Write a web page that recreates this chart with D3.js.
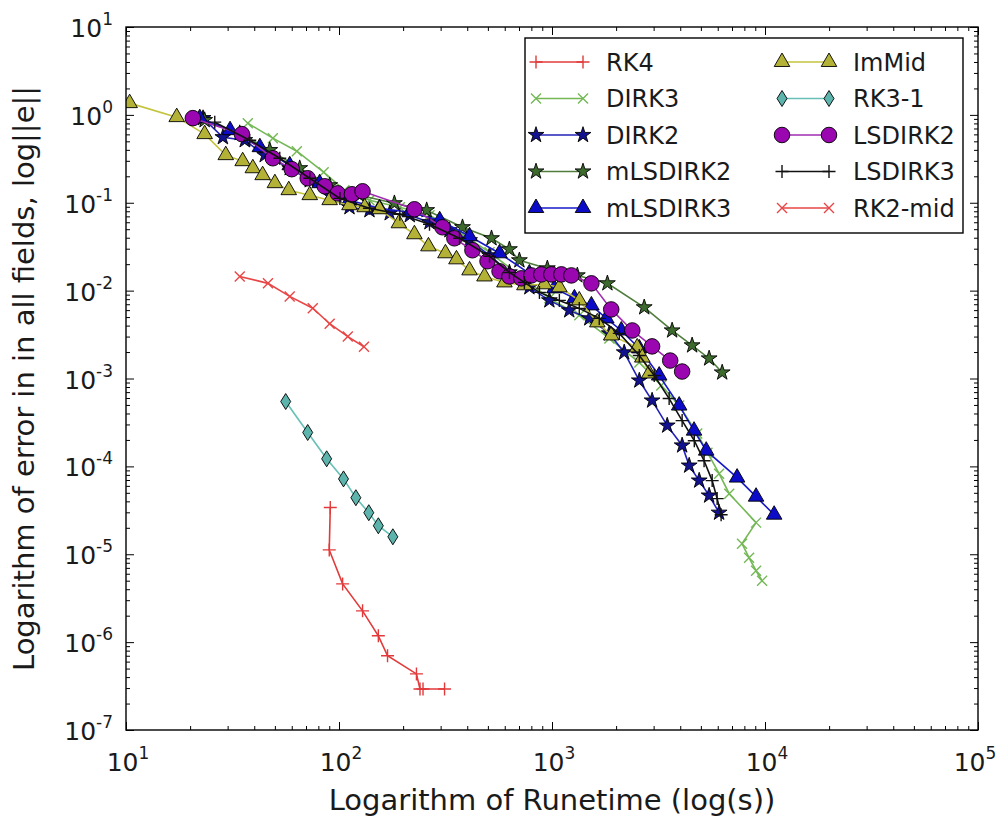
<!DOCTYPE html>
<html>
<head>
<meta charset="utf-8">
<script src="https://cdn.jsdelivr.net/npm/d3@7"></script>
<style>
  body { margin: 0; background: #fff; }
  text { font-family: "DejaVu Sans", sans-serif; fill: #1a1a1a; }
</style>
</head>
<body>
<svg id="chart" width="998" height="820"></svg>
<script>
// [runtime (s), error]
const RK4 = [[91,3.4e-5],[90,1.12e-5],[104,4.6e-6],[129,2.27e-6],[153,1.18e-6],[169,7.0e-7],[231,4.35e-7],[240,2.93e-7],[248,2.93e-7],[313,2.93e-7]];
const DIRK3 = [[37.3,0.805],[48.9,0.543],[63.4,0.386],[84.7,0.223],[106,0.139],[139,0.107],[193,0.0889],[266,0.0721],[368,0.0461],[509,0.0273],[703,0.0149],[972,0.00817],[1343,0.00523],[1859,0.00286],[2570,0.00152],[3258,8.32e-4],[3955,4.92e-4],[4808,2.36e-4],[5370,1.43e-4],[6090,8.26e-5],[6793,4.89e-5],[9080,2.29e-5],[7802,1.32e-5],[8420,9.12e-6],[9080,6.49e-6],[9690,4.99e-6]];
const DIRK2 = [[23.0,0.918],[28.5,0.557],[36.1,0.515],[44.8,0.348],[58.7,0.247],[72.9,0.180],[90.4,0.122],[112,0.0889],[139,0.0822],[173,0.0759],[215,0.0721],[266,0.0600],[330,0.0486],[410,0.0374],[509,0.0252],[631,0.0161],[783,0.0109],[972,0.00774],[1205,0.00596],[1496,0.00483],[1859,0.00326],[2183,0.00198],[2570,9.48e-4],[2951,5.61e-4],[3475,2.91e-4],[4083,1.73e-4],[4406,1.02e-4],[4910,6.89e-5],[5467,4.65e-5],[6090,2.97e-5]];
const mLSDIRK2 = [[23.4,0.871],[34.2,0.619],[47.3,0.397],[65.4,0.247],[90.4,0.158],[125,0.122],[182,0.0986],[258,0.0822],[380,0.0526],[520,0.0394],[631,0.0295],[703,0.0221],[951,0.0179],[1315,0.0149],[1820,0.0121],[2710,0.00645],[3664,0.00352],[4548,0.00238],[5467,0.00169],[6295,0.00117]];
const mLSDIRK3 = [[22.2,0.918],[30.8,0.670],[42.5,0.429],[58.7,0.267],[81.1,0.167],[112,0.107],[155,0.0865],[215,0.0779],[297,0.0632],[410,0.0415],[567,0.0266],[783,0.0157],[1026,0.0106],[1274,0.00817],[1531,0.00679],[1799,0.00483],[2115,0.00352],[2570,0.00220],[3186,0.00108],[3955,4.92e-4],[4644,2.55e-4],[5297,1.51e-4],[7396,7.45e-5],[9080,4.52e-5],[11040,2.82e-5]];
const ImMid = [[10.4,1.36],[17.3,0.943],[23.4,0.604],[29.4,0.348],[35.3,0.297],[39.4,0.247],[43.8,0.206],[50.0,0.167],[58.1,0.139],[72.9,0.122],[90.4,0.107],[112,0.0937],[132,0.0889],[155,0.0843],[191,0.0584],[226,0.0438],[263,0.0319],[316,0.0266],[356,0.0227],[410,0.0170],[482,0.0145],[598,0.0124],[742,0.0115],[921,0.0118],[1083,0.0109],[1343,0.00774],[1632,0.00435],[1897,0.00309],[2512,0.00226],[2654,0.00173],[2858,0.00114]];
const RK3_1 = [[56.2,5.47e-4],[71.3,2.43e-4],[87.5,1.22e-4],[105,7.2e-5],[120,4.4e-5],[138,2.97e-5],[153,2.11e-5],[179,1.58e-5]];
const LSDIRK2 = [[20.6,0.918],[35.0,0.604],[48.9,0.321],[60.0,0.241],[71.3,0.190],[85.7,0.154],[98.6,0.128],[115,0.125],[129,0.135],[226,0.0843],[306,0.0526],[348,0.0394],[423,0.0288],[498,0.0216],[567,0.0166],[631,0.0145],[718,0.0138],[800,0.0149],[891,0.0153],[993,0.0153],[1107,0.0153],[1233,0.0149],[1531,0.0121],[1897,0.00611],[2382,0.00352],[2951,0.00232],[3589,0.00160],[4083,0.00120]];
const LSDIRK3 = [[26.1,0.826],[38.1,0.515],[52.7,0.321],[72.9,0.190],[101,0.112],[139,0.0865],[193,0.0740],[266,0.0569],[368,0.0394],[509,0.0246],[631,0.0161],[742,0.0124],[873,0.00955],[1083,0.00774],[1343,0.00628],[1667,0.00483],[2070,0.00326],[2570,0.00183],[3020,0.00108],[3548,5.91e-4],[4083,3.32e-4],[4656,1.96e-4],[5176,1.16e-4],[5649,6.89e-5],[5961,4.30e-5],[6223,2.82e-5]];
const RK2_mid = [[34.2,0.0145],[46.4,0.0121],[58.7,0.0086],[75.3,0.0063],[90.4,0.0042],[110,0.0030],[131,0.0023]];

const xTickExps = [1, 2, 3, 4, 5];
const yTickExps = [1, 0, -1, -2, -3, -4, -5, -6, -7];

const series = [
	{ name: "RK4",      data: RK4,      color: "#e23a3a", marker: "plus" },
	{ name: "DIRK3",    data: DIRK3,    color: "#74b856", marker: "cross" },
	{ name: "DIRK2",    data: DIRK2,    color: "#2222b8", marker: "star",     fill: "#121290" },
	{ name: "mLSDIRK2", data: mLSDIRK2, color: "#4f7d3c", marker: "star",     fill: "#3d6a2d" },
	{ name: "mLSDIRK3", data: mLSDIRK3, color: "#1818c8", marker: "triangle", fill: "#0c0cc8" },
	{ name: "ImMid",    data: ImMid,    color: "#c4c43c", marker: "triangle", fill: "#b3b136" },
	{ name: "RK3-1",    data: RK3_1,    color: "#66c0b6", marker: "diamond",  fill: "#5cb4ac" },
	{ name: "LSDIRK2",  data: LSDIRK2,  color: "#a02cb0", marker: "circle",   fill: "#9a06b0" },
	{ name: "LSDIRK3",  data: LSDIRK3,  color: "#111111", marker: "plus" },
	{ name: "RK2-mid",  data: RK2_mid,  color: "#e84646", marker: "cross" }
];

const svg = d3.select("#chart");
const pLeft = 126, pRight = 978, pTop = 27, pBottom = 730;

const x = d3.scaleLog().domain([1e1, 1e5]).range([pLeft, pRight]);
const y = d3.scaleLog().domain([1e-7, 1e1]).range([pBottom, pTop]);

const markerPath = {
	plus: "M-6.5,0H6.5M0,-6.5V6.5",
	cross: "M-5,-5L5,5M-5,5L5,-5",
	star: d3.symbol(d3.symbolStar, 78)(),
	triangle: d3.symbol(d3.symbolTriangle, 105)(),
	circle: d3.symbol(d3.symbolCircle, 190)(),
	diamond: "M0,-8L5,0L0,8L-5,0Z"
};

function drawMarker(g, s, px, py) {
	const filled = !!s.fill;
	g.append("path")
		.attr("d", markerPath[s.marker])
		.attr("transform", `translate(${px},${py})`)
		.attr("fill", filled ? s.fill : "none")
		.attr("stroke", filled ? "#000" : s.color)
		.attr("stroke-width", filled ? 0.9 : 1.4);
}

svg.append("clipPath").attr("id", "plotclip")
	.append("rect").attr("x", pLeft).attr("y", pTop)
	.attr("width", pRight - pLeft).attr("height", pBottom - pTop);

const plot = svg.append("g").attr("clip-path", "url(#plotclip)");

const line = d3.line()
	.x((d) => x(d[0]))
	.y((d) => y(d[1]));

series.forEach((s) => {
	const g = plot.append("g");
	g.append("path")
		.datum(s.data)
		.attr("d", line)
		.attr("fill", "none")
		.attr("stroke", s.color)
		.attr("stroke-width", 1.6);
	s.data.forEach((d) => drawMarker(g, s, x(d[0]), y(d[1])));
});

// ticks, all four sides, pointing inward
const xMajor = xTickExps.map((e) => Math.pow(10, e));
const yMajor = yTickExps.map((e) => Math.pow(10, e));
const isMajor = (list) => (v) => list.some((m) => Math.abs(m - v) / m < 1e-9);
const xMinor = x.ticks().filter((v) => !isMajor(xMajor)(v));
const yMinor = y.ticks().filter((v) => !isMajor(yMajor)(v));

function tickSet(axis, pos, vals, size) {
	svg.append("g")
		.attr("transform", pos)
		.call(axis.tickValues(vals).tickSize(size).tickFormat(""))
		.call((g) => g.select(".domain").remove())
		.selectAll("line").attr("stroke", "#000").attr("stroke-width", 1);
}
tickSet(d3.axisBottom(x), `translate(0,${pBottom})`, xMajor, -8);
tickSet(d3.axisBottom(x), `translate(0,${pBottom})`, xMinor, -4);
tickSet(d3.axisTop(x), `translate(0,${pTop})`, xMajor, -8);
tickSet(d3.axisTop(x), `translate(0,${pTop})`, xMinor, -4);
tickSet(d3.axisLeft(y), `translate(${pLeft},0)`, yMajor, -8);
tickSet(d3.axisLeft(y), `translate(${pLeft},0)`, yMinor, -4);
tickSet(d3.axisRight(y), `translate(${pRight},0)`, yMajor, -8);
tickSet(d3.axisRight(y), `translate(${pRight},0)`, yMinor, -4);

svg.append("rect")
	.attr("x", pLeft).attr("y", pTop)
	.attr("width", pRight - pLeft).attr("height", pBottom - pTop)
	.attr("fill", "none").attr("stroke", "#000").attr("stroke-width", 1.4);

// tick labels as 10^n
function powLabel(sel) {
	sel.append("tspan").text("10");
	sel.append("tspan").attr("dy", -12).style("font-size", "17px").text((d) => d);
}
svg.selectAll(".xlab").data(xTickExps).enter()
	.append("text").attr("class", "xlab")
	.attr("x", (d) => Math.min(x(Math.pow(10, d)) + 2, 975))
	.attr("y", 771)
	.attr("text-anchor", "middle")
	.style("font-size", "25px")
	.call(powLabel);

svg.selectAll(".ylab").data(yTickExps).enter()
	.append("text").attr("class", "ylab")
	.attr("x", pLeft - 13)
	.attr("y", (d) => y(Math.pow(10, d)) + 10)
	.attr("text-anchor", "end")
	.style("font-size", "25px")
	.call(powLabel);

svg.append("text")
	.attr("x", (pLeft + pRight) / 2).attr("y", 810)
	.attr("text-anchor", "middle")
	.style("font-size", "29px")
	.text("Logarithm of Runetime (log(s))");

svg.append("text")
	.attr("transform", `translate(34,${(pTop + pBottom) / 2}) rotate(-90)`)
	.attr("text-anchor", "middle")
	.style("font-size", "29px")
	.text("Logarithm of error in in all fields, log||e||");

// legend, two columns of five
const legend = svg.append("g");
legend.append("rect")
	.attr("x", 525).attr("y", 38).attr("width", 438).attr("height", 195)
	.attr("fill", "#fff").attr("stroke", "#000").attr("stroke-width", 1.4);

series.forEach((s, i) => {
	const col = Math.floor(i / 5), row = i % 5;
	const x1 = col ? 782 : 536, x2 = x1 + 47;
	const ly = 62 + row * 36.5;
	const g = legend.append("g");
	g.append("line")
		.attr("x1", x1).attr("x2", x2).attr("y1", ly).attr("y2", ly)
		.attr("stroke", s.color).attr("stroke-width", 1.6);
	drawMarker(g, s, x1, ly);
	drawMarker(g, s, x2, ly);
	g.append("text")
		.attr("x", col ? 853 : 606).attr("y", ly + 8.5)
		.style("font-size", "24px")
		.text(s.name);
});
</script>
</body>
</html>
